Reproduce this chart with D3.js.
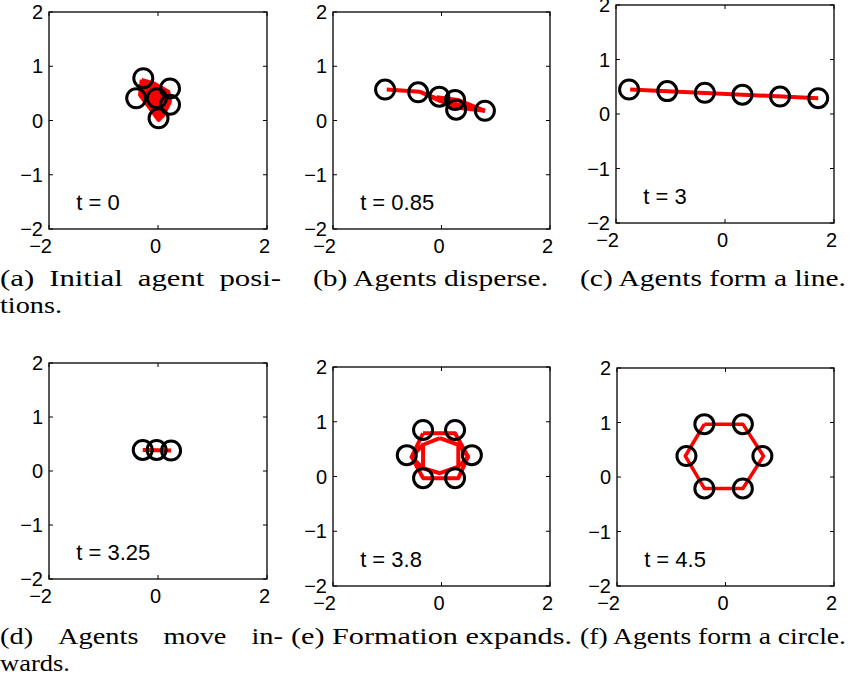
<!DOCTYPE html>
<html>
<head>
<meta charset="utf-8">
<script src="https://cdn.jsdelivr.net/npm/d3@7"></script>
<style>
  body { margin: 0; background: #fff; }
  svg { display: block; }
</style>
</head>
<body>
<div id="chart"></div>
<script>
// Time stamps shown in each panel
const times = ["0", "0.85", "3", "3.25", "3.8", "4.5"];

// Captions under each panel (lines)
const captions = [
  ["(a) Initial agent posi-", "tions."],
  ["(b) Agents disperse."],
  ["(c) Agents form a line."],
  ["(d) Agents move in-", "wards."],
  ["(e) Formation expands."],
  ["(f) Agents form a circle."]
];

// Axis ticks
const yTicks = [-2, -1, 0, 1, 2];
const xTicks = [-2, 0, 2];

// Agent positions [x, y]
const agentsA = [[-0.27, 0.78], [0.22, 0.59], [-0.40, 0.41], [-0.02, 0.41], [0.22, 0.29], [0.01, 0.04]];
const agentsB = [[-1.04, 0.57], [-0.43, 0.52], [-0.04, 0.44], [0.25, 0.38], [0.27, 0.20], [0.80, 0.18]];
const agentsC = [[-1.76, 0.45], [-1.06, 0.42], [-0.37, 0.39], [0.32, 0.355], [1.01, 0.32], [1.71, 0.29]];
const agentsD = [[-0.28, 0.39], [-0.025, 0.39], [0.24, 0.38]];
const agentsE = [[-0.34, 0.85], [0.25, 0.85], [-0.64, 0.39], [0.56, 0.39], [-0.34, -0.03], [0.25, -0.03]];
const agentsF = [[-0.39, 0.97], [0.32, 0.97], [-0.72, 0.385], [0.68, 0.385], [-0.39, -0.21], [0.32, -0.21]];

// Red trails (polylines) in each panel
const trailsA = [
  [[-0.30, 0.75], [-0.09, 0.69], [0.19, 0.53], [0.22, 0.35], [0.10, 0.10], [0.01, 0.01], [-0.12, 0.19], [-0.33, 0.47], [-0.30, 0.75]]
];
const trailsB = [
  [[-1.01, 0.57], [-0.40, 0.53], [-0.09, 0.41], [0.28, 0.30], [0.80, 0.18]],
  [[-0.40, 0.53], [-0.03, 0.36], [0.34, 0.23], [0.80, 0.18]],
  [[-0.09, 0.43], [0.30, 0.38], [0.80, 0.18]]
];
const trailsC = [[[-1.74, 0.45], [1.71, 0.29]]];
const trailsD = [[[-0.28, 0.39], [0.24, 0.38]]];
const trailsE = [
  [[-0.34, 0.79], [0.25, 0.79], [0.49, 0.36], [0.31, -0.03], [-0.34, -0.03], [-0.55, 0.36], [-0.34, 0.79]],
  [[-0.03, 0.70], [0.31, 0.58], [0.31, 0.18], [-0.03, 0.06], [-0.34, 0.15], [-0.34, 0.58], [-0.03, 0.70]],
  [[-0.34, 0.58], [-0.55, 0.36], [-0.34, 0.15]],
  [[0.31, 0.58], [0.49, 0.36], [0.31, 0.18]]
];
const trailsF = [[[-0.39, 0.97], [0.32, 0.97], [0.70, 0.385], [0.32, -0.21], [-0.39, -0.21], [-0.74, 0.385], [-0.39, 0.97]]];

const agents = [agentsA, agentsB, agentsC, agentsD, agentsE, agentsF];
const trails = [trailsA, trailsB, trailsC, trailsD, trailsE, trailsF];

// Plot boxes in pixels [left, top, right, bottom]
const boxes = [
  [49, 12, 267, 229], [333, 12, 550, 229], [616, 5, 834, 223],
  [49, 363, 267, 579], [333, 367, 550, 586], [617, 368, 834, 586]
];
const trailWidth = [4, 4, 4, 4, 4, 3.5];

const W = 850, H = 689;
const sansFont = "'Liberation Sans', Arial, Helvetica, sans-serif";
const serifFont = "'Liberation Serif', 'Times New Roman', serif";
const capSize = "23px";

const svg = d3.select("#chart").append("svg")
    .attr("width", W)
    .attr("height", H);

const fmt = d => (d < 0 ? "\u2212" + Math.abs(d) : String(d));

boxes.forEach((b, i) => {
  const [l, t, r, btm] = b;
  const x = d3.scaleLinear().domain([-2, 2]).range([l, r]);
  const y = d3.scaleLinear().domain([-2, 2]).range([btm, t]);
  const g = svg.append("g");

  // frame
  g.append("rect")
      .attr("x", l).attr("y", t)
      .attr("width", r - l).attr("height", btm - t)
      .attr("fill", "none")
      .attr("stroke", "#000")
      .attr("stroke-width", 1.3);

  // inward tick marks on all sides
  const tl = 4;
  yTicks.forEach(v => {
    g.append("line").attr("x1", l).attr("x2", l + tl).attr("y1", y(v)).attr("y2", y(v))
        .attr("stroke", "#000").attr("stroke-width", 1);
    g.append("line").attr("x1", r).attr("x2", r - tl).attr("y1", y(v)).attr("y2", y(v))
        .attr("stroke", "#000").attr("stroke-width", 1);
  });
  xTicks.forEach(v => {
    g.append("line").attr("x1", x(v)).attr("x2", x(v)).attr("y1", btm).attr("y2", btm - tl)
        .attr("stroke", "#000").attr("stroke-width", 1);
    g.append("line").attr("x1", x(v)).attr("x2", x(v)).attr("y1", t).attr("y2", t + tl)
        .attr("stroke", "#000").attr("stroke-width", 1);
  });

  // tick labels
  g.selectAll(".ylab").data(yTicks).enter().append("text")
      .attr("x", l - 6)
      .attr("y", d => y(d))
      .attr("dy", "0.36em")
      .attr("text-anchor", "end")
      .style("font-family", sansFont)
      .style("font-size", "20px")
      .text(fmt);

  g.selectAll(".xlab").data(xTicks).enter().append("text")
      .attr("x", d => x(d) + 3)
      .attr("y", btm + 24)
      .attr("text-anchor", "end")
      .style("font-family", sansFont)
      .style("font-size", "20px")
      .text(fmt);

  // red trails
  const line = d3.line().x(d => x(d[0])).y(d => y(d[1]));
  trails[i].forEach(tr => {
    g.append("path")
        .datum(tr)
        .attr("d", line)
        .attr("fill", i === 0 ? "#f00" : "none")
        .attr("stroke", "#f00")
        .attr("stroke-width", trailWidth[i])
        .attr("stroke-linejoin", "round");
  });

  // agents
  g.selectAll("circle").data(agents[i]).enter().append("circle")
      .attr("cx", d => x(d[0]))
      .attr("cy", d => y(d[1]))
      .attr("r", 9.5)
      .attr("fill", "none")
      .attr("stroke", "#000")
      .attr("stroke-width", 3);

  // time label
  g.append("text")
      .attr("x", x(-1.5))
      .attr("y", y(-1.5))
      .attr("dy", "0.36em")
      .style("font-family", sansFont)
      .style("font-size", "22px")
      .text("t = " + times[i]);
});

// captions: [panel, line] -> left, baseline, width, word gap (0 = natural)
const capLayout = [
  [[0, 286, 281, 15], [0, 313, 62, 0]],
  [[313, 286, 235, 0]],
  [[580, 286, 266, 0]],
  [[0, 644, 283, 25], [0, 671, 70, 0]],
  [[291, 644, 281, 0]],
  [[580, 644, 266, 0]]
];

captions.forEach((lines, i) => {
  lines.forEach((txt, k) => {
    const [cx, cy, cw, gap] = capLayout[i][k];
    if (gap > 0) {
      // justified line: words spread with wide gaps
      const words = txt.split(" ");
      const ws = words.map(w => {
        const tmp = svg.append("text").style("font-family", serifFont).style("font-size", capSize).text(w);
        const len = tmp.node().getComputedTextLength();
        tmp.remove();
        return len;
      });
      const scale = (cw - gap * (words.length - 1)) / d3.sum(ws);
      let pos = cx;
      words.forEach((w, j) => {
        svg.append("text")
            .attr("x", pos)
            .attr("y", cy)
            .attr("textLength", ws[j] * scale)
            .attr("lengthAdjust", "spacingAndGlyphs")
            .style("font-family", serifFont)
            .style("font-size", capSize)
            .text(w);
        pos += ws[j] * scale + gap;
      });
    } else {
      svg.append("text")
          .attr("x", cx)
          .attr("y", cy)
          .attr("textLength", cw)
          .attr("lengthAdjust", "spacingAndGlyphs")
          .style("font-family", serifFont)
          .style("font-size", capSize)
          .text(txt);
    }
  });
});
</script>
</body>
</html>
